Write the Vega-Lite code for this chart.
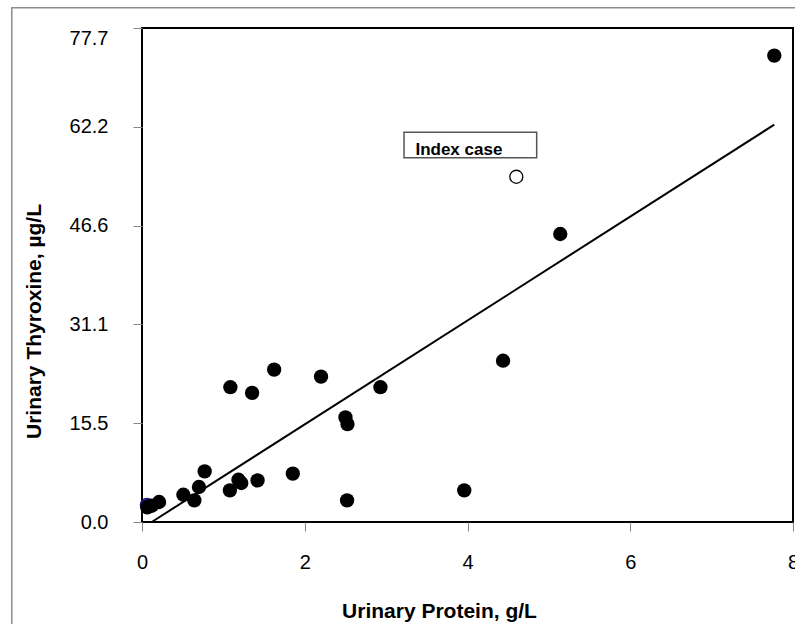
{
  "$schema": "https://vega.github.io/schema/vega-lite/v6.json",
  "width": 651,
  "height": 494,
  "autosize": "none",
  "padding": {"left": 142, "top": 28, "right": 2, "bottom": 102},
  "background": "white",
  "config": {"view": {"stroke": "black", "strokeWidth": 2}, "font": "Liberation Sans"},
  "datasets": {
    "points": [
      {"protein": 0.06, "thyroxine": 2.7, "series": "other"},
      {"protein": 0.065, "thyroxine": 2.3, "series": "patient"},
      {"protein": 0.12, "thyroxine": 2.56, "series": "patient"},
      {"protein": 0.21, "thyroxine": 3.15, "series": "patient"},
      {"protein": 0.508, "thyroxine": 4.29, "series": "patient"},
      {"protein": 0.643, "thyroxine": 3.4, "series": "patient"},
      {"protein": 0.7, "thyroxine": 5.5, "series": "patient"},
      {"protein": 0.77, "thyroxine": 7.96, "series": "patient"},
      {"protein": 1.08, "thyroxine": 4.97, "series": "patient"},
      {"protein": 1.185, "thyroxine": 6.65, "series": "patient"},
      {"protein": 1.22, "thyroxine": 6.13, "series": "patient"},
      {"protein": 1.42, "thyroxine": 6.54, "series": "patient"},
      {"protein": 1.853, "thyroxine": 7.6, "series": "patient"},
      {"protein": 2.52, "thyroxine": 3.4, "series": "patient"},
      {"protein": 1.086, "thyroxine": 21.2, "series": "patient"},
      {"protein": 1.353, "thyroxine": 20.3, "series": "patient"},
      {"protein": 1.624, "thyroxine": 23.96, "series": "patient"},
      {"protein": 2.2, "thyroxine": 22.86, "series": "patient"},
      {"protein": 2.5, "thyroxine": 16.45, "series": "patient"},
      {"protein": 2.525, "thyroxine": 15.4, "series": "patient"},
      {"protein": 2.93, "thyroxine": 21.2, "series": "patient"},
      {"protein": 3.96, "thyroxine": 4.97, "series": "patient"},
      {"protein": 4.437, "thyroxine": 25.37, "series": "patient"},
      {"protein": 5.14, "thyroxine": 45.3, "series": "patient"},
      {"protein": 7.77, "thyroxine": 73.35, "series": "patient"},
      {"protein": 4.6, "thyroxine": 54.3, "series": "index"}
    ],
    "fit": [
      {"protein": 0.12, "thyroxine": 0},
      {"protein": 7.77, "thyroxine": 62.5}
    ],
    "note": [
      {"label": "Index case", "x1": 3.22, "x2": 4.85, "y1": 57.3, "y2": 61.3, "tx": 3.36, "ty": 57.8}
    ]
  },
  "layer": [
    {
      "data": {"values": [{}]},
      "mark": {"type": "rect", "filled": false, "stroke": "#8c8c8c", "strokeWidth": 1.5, "clip": false},
      "encoding": {
        "x": {"datum": -1.6, "type": "quantitative"},
        "x2": {"datum": 12},
        "y": {"datum": 80.9, "type": "quantitative"},
        "y2": {"datum": -20}
      }
    },
    {
      "data": {"name": "fit"},
      "mark": {"type": "line", "color": "black", "strokeWidth": 2},
      "encoding": {
        "x": {"field": "protein", "type": "quantitative"},
        "y": {"field": "thyroxine", "type": "quantitative"}
      }
    },
    {
      "data": {"name": "points"},
      "transform": [{"filter": "datum.series != 'index'"}],
      "mark": {"type": "point", "shape": "circle", "filled": true, "opacity": 1, "size": 205},
      "encoding": {
        "x": {
          "field": "protein", "type": "quantitative",
          "scale": {"domain": [0, 8], "nice": false, "zero": false},
          "axis": {
            "values": [0, 2, 4, 6, 8], "format": "d",
            "title": "Urinary Protein, g/L",
            "grid": false, "domain": false,
            "tickSize": 9, "tickColor": "#888888", "tickWidth": 1,
            "labelFontSize": 20, "labelColor": "black", "labelPadding": 37,
            "labelBaseline": "alphabetic", "labelFlush": false, "labelOverlap": false,
            "titleFontSize": 21, "titleFontWeight": "bold", "titleColor": "black",
            "titleX": 297, "titleY": 95, "titleAlign": "center", "titleBaseline": "alphabetic"
          }
        },
        "y": {
          "field": "thyroxine", "type": "quantitative",
          "scale": {"domain": [0, 77.7], "nice": false, "zero": false},
          "axis": {
            "values": [0, 15.54, 31.08, 46.62, 62.16, 77.7], "format": ".1f",
            "title": "Urinary Thyroxine, µg/L",
            "grid": false, "domain": false,
            "tickSize": 9, "tickColor": "#888888", "tickWidth": 1,
            "labelFontSize": 20, "labelColor": "black", "labelPadding": 25,
            "labelBaseline": {"condition": {"test": "datum.value > 77", "value": "top"}, "value": "middle"},
            "labelFlush": false, "labelOverlap": false,
            "titleFontSize": 21, "titleFontWeight": "bold", "titleColor": "black",
            "titleX": -102, "titleY": 293, "titleAngle": 270, "titleAlign": "center", "titleBaseline": "alphabetic"
          }
        },
        "color": {
          "field": "series", "type": "nominal",
          "scale": {"domain": ["other", "patient"], "range": ["#1c1c7a", "black"]},
          "legend": null
        },
        "order": {"field": "series", "sort": "ascending"}
      }
    },
    {
      "data": {"name": "points"},
      "transform": [{"filter": "datum.series == 'index'"}],
      "mark": {"type": "point", "shape": "circle", "filled": false, "stroke": "black", "strokeWidth": 1.3, "opacity": 1, "size": 170},
      "encoding": {
        "x": {"field": "protein", "type": "quantitative"},
        "y": {"field": "thyroxine", "type": "quantitative"}
      }
    },
    {
      "data": {"name": "note"},
      "mark": {"type": "rect", "fill": "white", "stroke": "#555555", "strokeWidth": 1.5},
      "encoding": {
        "x": {"field": "x1", "type": "quantitative"},
        "x2": {"field": "x2"},
        "y": {"field": "y1", "type": "quantitative"},
        "y2": {"field": "y2"}
      }
    },
    {
      "data": {"name": "note"},
      "mark": {"type": "text", "align": "left", "baseline": "alphabetic", "fontSize": 17, "fontWeight": "bold", "color": "black"},
      "encoding": {
        "x": {"field": "tx", "type": "quantitative"},
        "y": {"field": "ty", "type": "quantitative"},
        "text": {"field": "label"}
      }
    }
  ]
}
